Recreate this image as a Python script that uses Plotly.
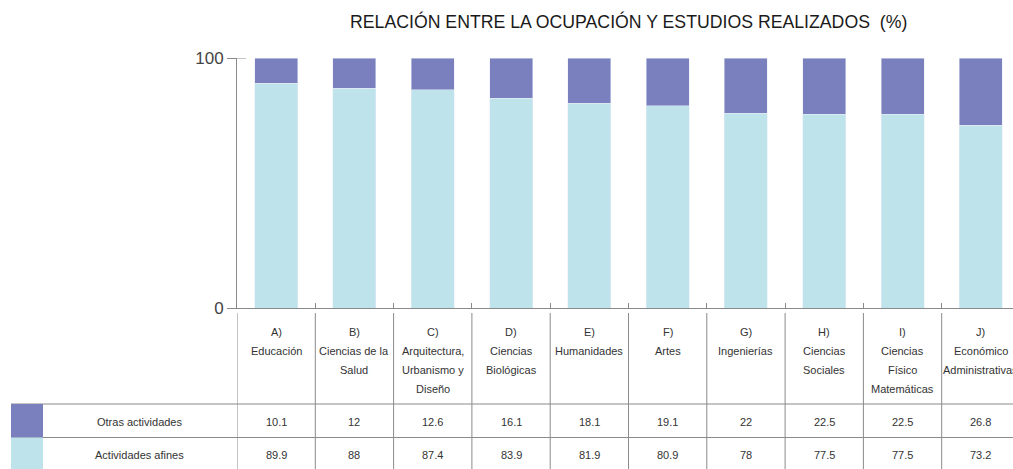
import plotly.graph_objects as go

# ---------------- data ----------------
categories = ["A)<br>Educación", "B)<br>Ciencias de la<br>Salud",
              "C)<br>Arquitectura,<br>Urbanismo y<br>Diseño",
              "D)<br>Ciencias<br>Biológicas", "E)<br>Humanidades", "F)<br>Artes",
              "G)<br>Ingenierías", "H)<br>Ciencias<br>Sociales",
              "I)<br>Ciencias<br>Físico<br>Matemáticas",
              "J)<br>Económico<br>Administrativas"]
afines = [89.9, 88, 87.4, 83.9, 81.9, 80.9, 78, 77.5, 77.5, 73.2]
otras = [10.1, 12, 12.6, 16.1, 18.1, 19.1, 22, 22.5, 22.5, 26.8]
afines_lbl = ["89.9", "88", "87.4", "83.9", "81.9", "80.9", "78", "77.5", "77.5", "73.2"]
otras_lbl = ["10.1", "12", "12.6", "16.1", "18.1", "19.1", "22", "22.5", "22.5", "26.8"]
series_names = ["Otras actividades", "Actividades afines"]
title = "RELACIÓN ENTRE LA OCUPACIÓN Y ESTUDIOS REALIZADOS  (%)"
yticks = [0, 100]

# ---------------- layout constants ----------------
W, H = 1013, 469
L, T = 237, 58
B_PX = 308
PW = W - L
PH = B_PX - T
COLW = 78.3
C_OTRAS = "#7a7fbe"
C_AFINES = "#bee3ea"
GRID = "#8a8a8a"
TXT = "#333333"
FONT = "Liberation Sans, Arial, sans-serif"
FS = 11
LINE_H = 19

def py(p):
    return (B_PX - p) / PH

def px(p):
    return (p - L) / PW

n = len(categories)
xidx = list(range(n))

fig = go.Figure()
fig.add_trace(go.Bar(x=xidx, y=afines, marker_color=C_AFINES, width=0.55,
                     name=series_names[1], showlegend=False))
fig.add_trace(go.Bar(x=xidx, y=otras, marker_color=C_OTRAS, width=0.55,
                     name=series_names[0], showlegend=False))

shapes = []
annotations = []

# y-axis tick at 100 crossing the axis
shapes.append(dict(type="line", xref="paper", yref="y", x0=px(L - 9), x1=px(L + 9),
                   y0=100, y1=100, line=dict(color=GRID, width=1)))

# table vertical separators
for i in range(n):
    shapes.append(dict(type="line", xref="x", yref="paper", x0=i - 0.5, x1=i - 0.5,
                       y0=py(313), y1=py(H + 5), line=dict(color=GRID, width=1)))
# table horizontal lines
for yy in (404, 437.5):
    shapes.append(dict(type="line", xref="paper", yref="paper", x0=px(11), x1=px(W + 5),
                       y0=py(yy), y1=py(yy), line=dict(color=GRID, width=1)))
# legend swatches
shapes.append(dict(type="rect", xref="paper", yref="paper", x0=px(11), x1=px(43),
                   y0=py(437.5), y1=py(404), fillcolor=C_OTRAS, line=dict(width=0)))
shapes.append(dict(type="rect", xref="paper", yref="paper", x0=px(11), x1=px(43),
                   y0=py(H + 5), y1=py(437.5), fillcolor=C_AFINES, line=dict(width=0)))

# header labels (one annotation per line to reproduce the wide line spacing)
for i, c in enumerate(categories):
    for k, line in enumerate(c.split("<br>")):
        annotations.append(dict(x=i, xref="x", y=py(332 + k * LINE_H), yref="paper",
                                text=line, showarrow=False, xanchor="center",
                                yanchor="middle",
                                font=dict(family=FONT, size=FS, color=TXT)))
    annotations.append(dict(x=i, xref="x", y=py(422), yref="paper", text=otras_lbl[i],
                            showarrow=False, xanchor="center", yanchor="middle",
                            font=dict(family=FONT, size=FS, color=TXT)))
    annotations.append(dict(x=i, xref="x", y=py(455), yref="paper", text=afines_lbl[i],
                            showarrow=False, xanchor="center", yanchor="middle",
                            font=dict(family=FONT, size=FS, color=TXT)))
for yy, name in ((422, series_names[0]), (455, series_names[1])):
    annotations.append(dict(x=px(139), xref="paper", y=py(yy), yref="paper", text=name,
                            showarrow=False, xanchor="center", yanchor="middle",
                            font=dict(family=FONT, size=FS, color=TXT)))

# title
annotations.append(dict(x=px(628), xref="paper", y=py(21), yref="paper", text=title,
                        showarrow=False, xanchor="center", yanchor="middle",
                        font=dict(family="Liberation Sans, Arial, sans-serif",
                                  size=17.7, color="#1a1a1a")))

fig.update_layout(
    width=W, height=H,
    margin=dict(l=L, r=0, t=T, b=H - B_PX, pad=0),
    barmode="stack",
    plot_bgcolor="white", paper_bgcolor="white",
    shapes=shapes, annotations=annotations,
    bargap=0.45,
)
fig.update_xaxes(range=[-0.5, -0.5 + PW / COLW], showticklabels=False,
                 showline=True, linecolor=GRID, linewidth=1,
                 tickmode="array", tickvals=[i + 0.5 for i in xidx],
                 ticks="inside", ticklen=5, tickcolor=GRID,
                 showgrid=False, zeroline=False, fixedrange=True)
fig.update_yaxes(range=[0, 100], tickvals=yticks, ticktext=["0", "100"],
                 showline=True, linecolor=GRID, linewidth=1,
                 ticks="outside", ticklen=9, tickcolor=GRID,
                 showgrid=False, zeroline=False,
                 tickfont=dict(family="Liberation Sans, sans-serif", size=17, color="#444444"))

fig.write_html("out.html", config={"displayModeBar": False},
               post_script="document.body.style.margin='0px';")
